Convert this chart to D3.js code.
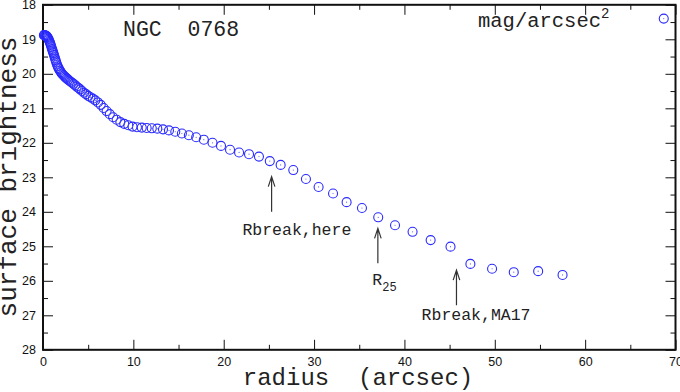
<!DOCTYPE html>
<html>
<head>
<meta charset="utf-8">
<script src="https://cdn.jsdelivr.net/npm/d3@7"></script>
<style>
  body { margin: 0; background: #fff; }
  .tick text { font-family: "Liberation Sans", Arial, sans-serif; font-size: 12.5px; fill: #111; }
  .mono { font-family: "Liberation Mono", "Courier New", monospace; fill: #222; }
</style>
</head>
<body>
<svg width="680" height="392"></svg>
<script>
// surface brightness profile
const radius = [0.10, 0.16, 0.22, 0.28, 0.34, 0.40, 0.46, 0.52, 0.58, 0.64, 0.70, 0.76, 0.82, 0.88, 0.94,
  1.00, 1.05, 1.10, 1.15, 1.21, 1.27, 1.34, 1.40, 1.47, 1.55, 1.63, 1.71, 1.79, 1.88, 1.98,
  2.08, 2.18, 2.29, 2.40, 2.52, 2.65, 2.78, 2.92, 3.07, 3.22, 3.38, 3.55, 3.73, 3.92, 4.11,
  4.32, 4.54, 4.76, 5.00, 5.25, 5.51, 5.79, 6.08, 6.39, 6.71, 7.04, 7.39, 7.76, 8.15, 8.56,
  8.99, 9.44, 9.91, 10.40, 10.93, 11.47, 12.04, 12.65, 13.28, 13.94, 14.64, 15.37, 16.14, 16.95, 17.80,
  18.76, 19.70, 20.70, 21.70, 22.80, 23.90, 25.10, 26.30, 27.70, 29.10, 30.50, 32.10, 33.60, 35.30, 37.10,
  38.96, 40.90, 42.90, 45.10, 47.30, 49.70, 52.10, 54.80, 57.50, 68.70];
const mu = [18.88, 18.88, 18.89, 18.89, 18.90, 18.91, 18.93, 18.95, 18.98, 19.01, 19.05, 19.09, 19.13, 19.18, 19.23,
  19.28, 19.32, 19.36, 19.40, 19.45, 19.50, 19.56, 19.61, 19.67, 19.73, 19.78, 19.83, 19.87, 19.91, 19.95,
  19.99, 20.02, 20.05, 20.08, 20.11, 20.14, 20.17, 20.20, 20.23, 20.26, 20.29, 20.33, 20.37, 20.41, 20.45,
  20.50, 20.55, 20.59, 20.64, 20.68, 20.72, 20.77, 20.83, 20.90, 20.99, 21.08, 21.17, 21.26, 21.33, 21.40,
  21.45, 21.49, 21.53, 21.55, 21.56, 21.57, 21.58, 21.59, 21.61, 21.64, 21.68, 21.73, 21.78, 21.84, 21.91,
  22.00, 22.09, 22.20, 22.28, 22.33, 22.40, 22.53, 22.64, 22.79, 23.05, 23.28, 23.47, 23.72, 23.89, 24.16,
  24.39, 24.58, 24.82, 25.01, 25.51, 25.65, 25.75, 25.72, 25.83, 18.40];

const xTicks = [0, 10, 20, 30, 40, 50, 60, 70];
const xMinor = [5, 15, 25, 35, 45, 55, 65];
const yTicks = [18, 19, 20, 21, 22, 23, 24, 25, 26, 27, 28];
const yMinor = [18.5, 19.5, 20.5, 21.5, 22.5, 23.5, 24.5, 25.5, 26.5, 27.5];

// arrows: radius, tip, tail
const arrowR = [25.3, 37.06, 45.76];
const arrowTip = [22.98, 24.48, 25.69];
const arrowTail = [24.0, 25.49, 26.71];
const noteText = ['Rbreak,here', 'R', 'Rbreak,MA17'];
const noteR = [22.07, 36.45, 41.9];
const noteMu = [24.67, 26.11, 27.15];

const svg = d3.select('svg');
const x = d3.scaleLinear().domain([0, 70]).range([43, 675.5]);
const y = d3.scaleLinear().domain([18, 28]).range([4.8, 349.8]);

const xL = x(0), xR = x(70), yT = y(18), yB = y(28);

function axisG(axis, tf) {
  const g = svg.append('g').attr('transform', tf).call(axis);
  g.select('.domain').remove();
  g.selectAll('.tick line').attr('stroke', '#111').attr('stroke-width', 1);
  return g;
}

// bottom
axisG(d3.axisBottom(x).tickValues(xTicks).tickSize(-10).tickPadding(7).tickFormat(d3.format('d')), `translate(0,${yB})`);
axisG(d3.axisBottom(x).tickValues(xMinor).tickSize(-5).tickFormat(''), `translate(0,${yB})`);
// top
axisG(d3.axisTop(x).tickValues(xTicks).tickSize(-10).tickFormat(''), `translate(0,${yT})`);
axisG(d3.axisTop(x).tickValues(xMinor).tickSize(-5).tickFormat(''), `translate(0,${yT})`);
// left
axisG(d3.axisLeft(y).tickValues(yTicks).tickSize(-10).tickPadding(7).tickFormat(d3.format('d')), `translate(${xL},0)`);
axisG(d3.axisLeft(y).tickValues(yMinor).tickSize(-5).tickFormat(''), `translate(${xL},0)`);
// right
axisG(d3.axisRight(y).tickValues(yTicks).tickSize(-10).tickFormat(''), `translate(${xR},0)`);
axisG(d3.axisRight(y).tickValues(yMinor).tickSize(-5).tickFormat(''), `translate(${xR},0)`);

svg.append('rect')
  .attr('x', xL).attr('y', yT)
  .attr('width', xR - xL).attr('height', yB - yT)
  .attr('fill', 'none').attr('stroke', '#111').attr('stroke-width', 2);

// points
const pts = radius.map((r, i) => ({ r: r, m: mu[i] }));
svg.append('g').selectAll('circle')
  .data(pts)
  .enter()
  .append('circle')
  .attr('cx', d => x(d.r))
  .attr('cy', d => y(d.m))
  .attr('r', 4.5)
  .attr('fill', 'none')
  .attr('stroke', '#2a2aff')
  .attr('stroke-width', 1.1);
svg.append('g').selectAll('circle')
  .data(pts)
  .enter()
  .append('circle')
  .attr('cx', d => x(d.r))
  .attr('cy', d => y(d.m))
  .attr('r', 0.6)
  .attr('fill', '#6060ff');

// arrows
arrowR.forEach((r, i) => {
  const ax = x(r), ty = y(arrowTip[i]), by = y(arrowTail[i]);
  svg.append('path')
    .attr('d', `M${ax},${by}L${ax},${ty}M${ax - 3.3},${ty + 10}L${ax},${ty}L${ax + 3.3},${ty + 10}`)
    .attr('fill', 'none').attr('stroke', '#333').attr('stroke-width', 1.2);
});

noteText.forEach((t, i) => {
  const tx = svg.append('text').attr('class', 'mono')
    .attr('x', x(noteR[i])).attr('y', y(noteMu[i]))
    .style('font-size', '16.5px')
    .text(t);
  if (t === 'R') {
    tx.append('tspan').attr('dy', 6).style('font-size', '12px').text('25');
  }
});

// titles
svg.append('text').attr('class', 'mono')
  .attr('x', 123).attr('y', 36)
  .style('font-size', '21.5px')
  .attr('xml:space', 'preserve')
  .text('NGC  0768');

const unit = svg.append('text').attr('class', 'mono')
  .attr('x', 478).attr('y', 27)
  .style('font-size', '20.5px')
  .text('mag/arcsec');
unit.append('tspan').attr('dy', -9).style('font-size', '14px').text('2');

svg.append('text').attr('class', 'mono')
  .attr('x', 358).attr('y', 385)
  .attr('text-anchor', 'middle')
  .style('font-size', '24px')
  .attr('xml:space', 'preserve')
  .text('radius  (arcsec)');

svg.append('text').attr('class', 'mono')
  .attr('transform', 'translate(16,177) rotate(-90)')
  .attr('text-anchor', 'middle')
  .style('font-size', '26px')
  .text('surface brightness');
</script>
</body>
</html>
